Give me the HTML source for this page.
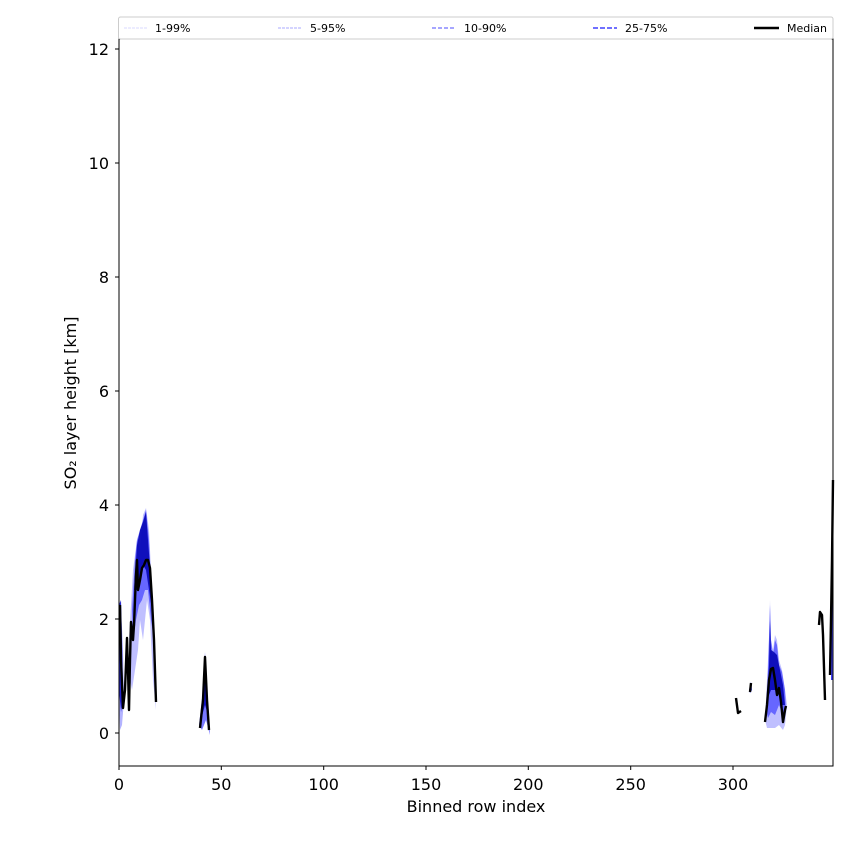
<!DOCTYPE html>
<html><head><meta charset="utf-8"><style>
body{margin:0;background:#fff;}
svg{display:block;font-family:"DejaVu Sans","Liberation Sans",sans-serif;}
</style></head><body>
<svg width="850" height="850" viewBox="0 0 850 850" xmlns="http://www.w3.org/2000/svg">
<rect width="850" height="850" fill="#fff"/>
<!-- left cluster fills -->
<g>
<polygon points="119,600 121,605 123,650 124,700 122,725 120,730 119,700" fill="#8080ff" opacity="0.6"/>
<polygon points="119,605 121,600 122,640 123,700 121,712 119,690" fill="#0000c0" opacity="0.8"/>
<polygon points="129,640 133,570 137,540 140,550 143,515 146,508 149,530 151,570 153,610 155,650 156,710 153,680 150,620 147,600 143,640 140,620 138,650 135,670 132,690 130,680" fill="#8080ff" opacity="0.5"/>
<polygon points="132,610 135,560 137,540 140,530 143,520 146,510 149,540 151,580 153,620 154,640 151,620 148,590 145,590 142,600 139,605 136,620 133,640" fill="#4040ff" opacity="0.7"/>
<polygon points="134,590 137,545 140,530 143,522 146,512 148,540 151,580 152,610 149,590 146,570 143,565 140,575 137,590" fill="#0000b0" opacity="0.85"/>
<polygon points="199,725 203,690 205,652 207,690 209,715 210,735 206,720 202,730" fill="#4040ff" opacity="0.7"/>
<polygon points="201,720 204,690 205,655 206,690 208,715 205,705" fill="#0000b0" opacity="0.85"/>
<!-- right cluster fills -->
<polygon points="765,720 767,680 769,640 770,600 771,640 773,650 775,635 777,640 779,660 782,670 785,690 787,705 785,725 783,730 779,725 775,728 771,728 767,728" fill="#8080ff" opacity="0.5"/>
<polygon points="766,710 768,670 770,605 771,640 773,655 775,640 777,645 779,665 782,672 785,690 786,712 783,715 779,705 775,715 771,712 768,718" fill="#4040ff" opacity="0.7"/>
<polygon points="767,700 769,665 770,620 771,650 774,652 777,655 780,670 783,685 785,705 782,705 779,695 775,690 771,690" fill="#0000b0" opacity="0.85"/>
<polygon points="749,690 751,682 752,690 750,693" fill="#4040ff"/>
<polygon points="832,490 833,483 833,680 831,680" fill="#4040ff"/>
</g>
<!-- median -->
<g fill="none" stroke="#000" stroke-width="2.4" stroke-linejoin="round">
<polyline points="120,605 121,660 123,708 125,690 127,638 128,670 129,710 130,660 131,622 133,640 134,625 136,575 137,560 138,590 140,580 142,568 144,565 146,560 148,560 150,568 152,600 154,640 156,702"/>
<polyline points="200,728 203,700 205,657 207,700 209,730"/>
<polyline points="736,698 738,713 741,711"/>
<polyline points="750,692 751,683"/>
<polyline points="765,722 767,705 769,680 771,669 773,668 775,680 777,695 779,688 781,702 783,722 785,710 786,706"/>
<polyline points="819,625 820,612 822,615 823,635 825,700"/>
<polyline points="830,675 831,620 832,560 833,480"/>
</g>
<!-- axes -->
<rect x="119" y="39" width="714" height="727" fill="none" stroke="#000" stroke-width="1"/>
<g stroke="#000" stroke-width="1">
<line x1="119" y1="766" x2="119" y2="770"/><line x1="221.3" y1="766" x2="221.3" y2="770"/>
<line x1="323.7" y1="766" x2="323.7" y2="770"/><line x1="426" y1="766" x2="426" y2="770"/>
<line x1="528.3" y1="766" x2="528.3" y2="770"/><line x1="630.7" y1="766" x2="630.7" y2="770"/>
<line x1="733" y1="766" x2="733" y2="770"/>
<line x1="115" y1="733" x2="119" y2="733"/><line x1="115" y1="619" x2="119" y2="619"/>
<line x1="115" y1="505" x2="119" y2="505"/><line x1="115" y1="391" x2="119" y2="391"/>
<line x1="115" y1="277" x2="119" y2="277"/><line x1="115" y1="163" x2="119" y2="163"/>
<line x1="115" y1="49" x2="119" y2="49"/>
</g>
<g font-size="16" fill="#000" text-anchor="middle">
<text x="119" y="790">0</text><text x="221.3" y="790">50</text><text x="323.7" y="790">100</text>
<text x="426" y="790">150</text><text x="528.3" y="790">200</text><text x="630.7" y="790">250</text>
<text x="733" y="790">300</text>
<text x="476" y="812">Binned row index</text>
</g>
<g font-size="16" fill="#000" text-anchor="end">
<text x="109" y="739">0</text><text x="109" y="625">2</text><text x="109" y="511">4</text>
<text x="109" y="397">6</text><text x="109" y="283">8</text><text x="109" y="169">10</text>
<text x="109" y="55">12</text>
</g>
<text transform="translate(76,403) rotate(-90)" font-size="16" text-anchor="middle">SO₂ layer height [km]</text>
<!-- legend -->
<rect x="118.5" y="17" width="714.5" height="22" fill="#fff" stroke="#ccc" stroke-width="1" rx="2"/>
<g font-size="11" fill="#000">
<line x1="124" y1="28" x2="148" y2="28" stroke="#d8d8ff" stroke-width="1" stroke-dasharray="3,1"/>
<text x="155" y="32">1-99%</text>
<line x1="278" y1="28" x2="302" y2="28" stroke="#a8a8ff" stroke-width="1" stroke-dasharray="3,1"/>
<text x="310" y="32">5-95%</text>
<line x1="432" y1="28" x2="456" y2="28" stroke="#7070ff" stroke-width="1.2" stroke-dasharray="4,2"/>
<text x="464" y="32">10-90%</text>
<line x1="593" y1="28" x2="617" y2="28" stroke="#4040ff" stroke-width="1.6" stroke-dasharray="5,2"/>
<text x="625" y="32">25-75%</text>
<line x1="754" y1="28" x2="779" y2="28" stroke="#000" stroke-width="2.4"/>
<text x="787" y="32">Median</text>
</g>
</svg>
</body></html>
